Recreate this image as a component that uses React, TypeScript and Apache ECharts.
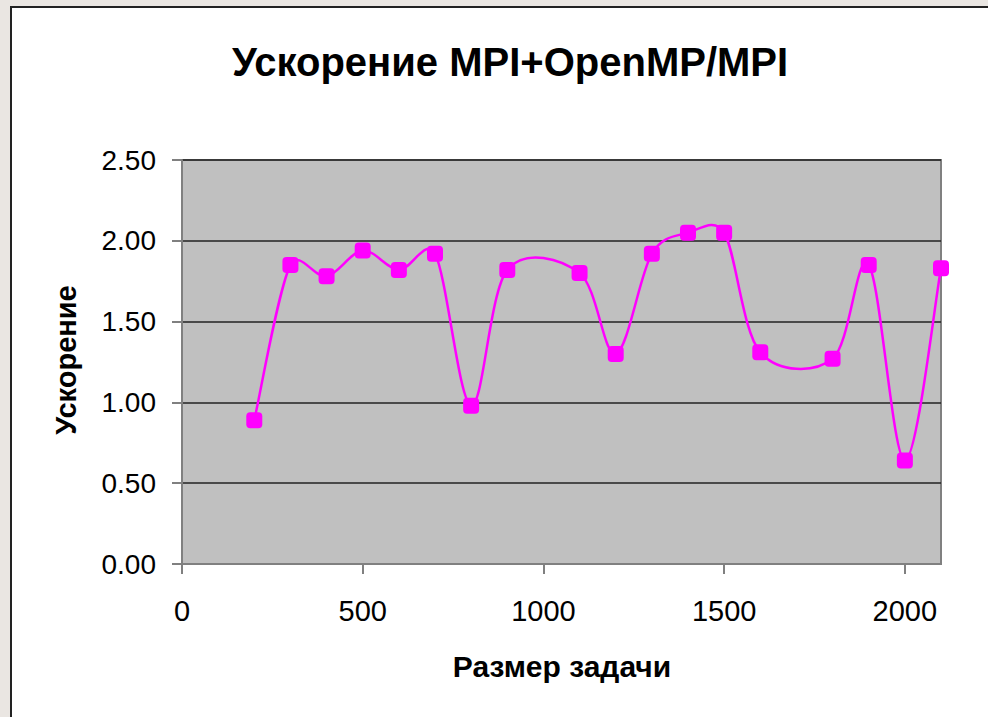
import React, { useEffect, useRef } from "react";
import * as echarts from "echarts";

const sizes = [200, 300, 400, 500, 600, 700, 800, 900, 1100, 1200, 1300, 1400, 1500, 1600, 1800, 1900, 2000, 2100];
const speedup = [0.89, 1.85, 1.78, 1.94, 1.82, 1.92, 0.98, 1.82, 1.80, 1.30, 1.92, 2.05, 2.05, 1.31, 1.27, 1.85, 0.64, 1.83];
const xTicks = [0, 500, 1000, 1500, 2000];
const titleText = "Ускорение MPI+OpenMP/MPI";
const xName = "Размер задачи";
const yName = "Ускорение";

export default function App() {
  const ref = useRef<HTMLDivElement>(null);
  useEffect(() => {
    if (!ref.current) return;
    const chart = echarts.init(ref.current, undefined, { renderer: "svg" });
    const font = "Arial, 'Liberation Sans', sans-serif";
    const points = sizes.map((s, i) => [s, speedup[i]]);
    chart.setOption({
      animation: false,
      backgroundColor: "#EAE6E2",
      graphic: [
        {
          type: "rect",
          z: -10,
          shape: { x: 11, y: 7, width: 990, height: 720 },
          style: { fill: "#ffffff", stroke: "#222222", lineWidth: 2 },
        },
        {
          type: "text",
          x: 510,
          y: 62,
          style: {
            text: titleText,
            fill: "#000",
            font: `bold 40px ${font}`,
            textAlign: "center",
            textVerticalAlign: "middle",
          },
        },
        {
          type: "text",
          x: 562,
          y: 666,
          style: {
            text: xName,
            fill: "#000",
            font: `bold 30px ${font}`,
            textAlign: "center",
            textVerticalAlign: "middle",
          },
        },
        {
          type: "text",
          x: 66,
          y: 360,
          rotation: Math.PI / 2,
          style: {
            text: yName,
            fill: "#000",
            font: `bold 29px ${font}`,
            textAlign: "center",
            textVerticalAlign: "middle",
          },
        },
      ],
      grid: {
        left: 182,
        top: 160,
        width: 759,
        height: 404,
        show: true,
        backgroundColor: "#C0C0C0",
        borderColor: "#808080",
        borderWidth: 2,
      },
      xAxis: {
        type: "value",
        min: 0,
        max: 2100,
        interval: 500,
        axisLine: { show: true, lineStyle: { color: "#808080", width: 2 } },
        axisTick: { show: true, length: 10, lineStyle: { color: "#808080", width: 2 }, customValues: xTicks },
        axisLabel: {
          customValues: xTicks,
          margin: 32,
          color: "#000",
          fontSize: 29,
          fontFamily: font,
          formatter: (v: number) => String(v),
        },
        splitLine: { show: false },
      },
      yAxis: {
        type: "value",
        min: 0,
        max: 2.5,
        interval: 0.5,
        axisLine: { show: true, lineStyle: { color: "#808080", width: 2 } },
        axisTick: { show: true, length: 10, lineStyle: { color: "#808080", width: 2 } },
        axisLabel: {
          margin: 26,
          color: "#000",
          fontSize: 28,
          fontFamily: font,
          formatter: (v: number) => v.toFixed(2),
        },
        splitLine: { show: true, lineStyle: { color: "#222", width: 1.5 } },
      },
      series: [
        {
          type: "custom",
          coordinateSystem: "cartesian2d",
          data: [points[0]],
          clip: false,
          z: 2,
          renderItem: (params: any, api: any) => {
            const p = points.map((d) => api.coord(d));
            const n = p.length;
            const tangent = (i: number) => {
              const a = p[Math.max(i - 1, 0)];
              const b = p[Math.min(i + 1, n - 1)];
              return [(b[0] - a[0]) / 6, (b[1] - a[1]) / 6];
            };
            const clampTo = (t: number[], maxLen: number) => {
              const len = Math.hypot(t[0], t[1]);
              if (len <= maxLen || len === 0) return t;
              const k = maxLen / len;
              return [t[0] * k, t[1] * k];
            };
            let d = `M${p[0][0]},${p[0][1]}`;
            for (let i = 0; i < n - 1; i++) {
              const p1 = p[i];
              const p2 = p[i + 1];
              const seg = Math.hypot(p2[0] - p1[0], p2[1] - p1[1]);
              const t1 = clampTo(tangent(i), seg * 0.5);
              const t2 = clampTo(tangent(i + 1), seg * 0.5);
              d += ` C${p1[0] + t1[0]},${p1[1] + t1[1]} ${p2[0] - t2[0]},${p2[1] - t2[1]} ${p2[0]},${p2[1]}`;
            }
            return {
              type: "path",
              shape: { pathData: d },
              style: { stroke: "#FF00FF", lineWidth: 2.5, fill: "none" },
            };
          },
        },
        {
          type: "scatter",
          data: points,
          symbol: "roundRect",
          symbolSize: 16,
          itemStyle: { color: "#FF00FF", opacity: 1 },
          clip: false,
          z: 3,
        },
      ],
    });
    return () => chart.dispose();
  }, []);
  return (
    <div
      ref={ref}
      style={{ position: "absolute", left: 0, top: 0, width: 988, height: 717 }}
    />
  );
}
